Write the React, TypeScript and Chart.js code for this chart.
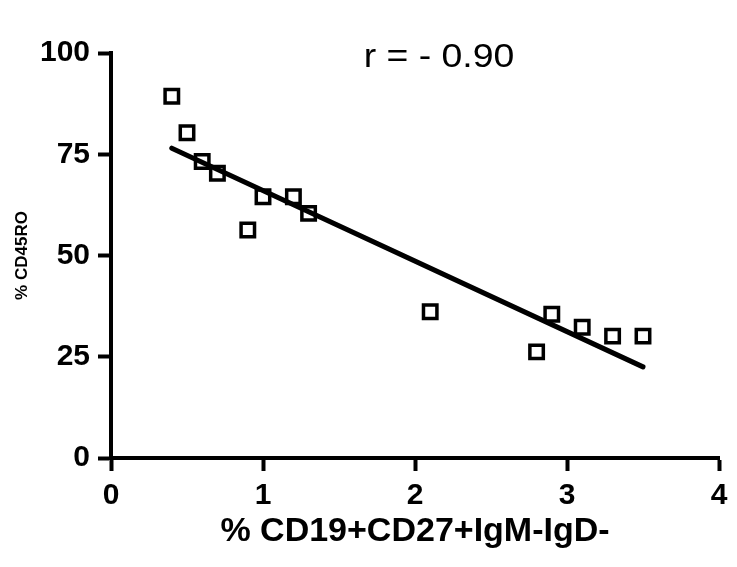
import React, { useEffect, useRef } from "react";
import { Chart, registerables } from "chart.js";

Chart.register(...registerables);

const xValues = [0.4, 0.5, 0.6, 0.7, 0.9, 1.0, 1.2, 1.3, 2.1, 2.8, 2.9, 3.1, 3.3, 3.5];
const yValues = [89.3, 80.3, 73.2, 70.3, 56.3, 64.5, 64.5, 60.4, 36.1, 26.2, 35.5, 32.3, 30.1, 30.1];
const fitX = [0.4, 3.5];
const fitY = [76.5, 22.5];
const xTicks = [0, 1, 2, 3, 4];
const yTicks = [0, 25, 50, 75, 100];
const xTitle = "% CD19+CD27+IgM-IgD-";
const yTitle = "% CD45RO";
const annotation = "r = - 0.90";

const FONT = "'Liberation Sans', Arial, Helvetica, sans-serif";

const annotationPlugin = {
  id: "rAnnotation",
  afterDraw(chart: any) {
    const ctx = chart.ctx;
    ctx.save();
    ctx.fillStyle = "#000";
    ctx.font = `normal 34px ${FONT}`;
    ctx.textAlign = "center";
    ctx.textBaseline = "middle";
    ctx.translate(439, 58);
    ctx.scale(1.1, 1);
    ctx.fillText(annotation, 0, 0);
    ctx.restore();
  },
};

export default function App() {
  const ref = useRef<HTMLCanvasElement | null>(null);

  useEffect(() => {
    if (!ref.current) return;
    const chart = new Chart(ref.current, {
      type: "scatter",
      data: {
        datasets: [
          {
            type: "line",
            data: fitX.map((x, i) => ({ x, y: fitY[i] })),
            borderColor: "#000",
            borderWidth: 5,
            borderCapStyle: "round",
            pointRadius: 0,
            fill: false,
          },
          {
            type: "scatter",
            data: xValues.map((x, i) => ({ x, y: yValues[i] })),
            pointStyle: "rect",
            pointRadius: 9.5,
            borderWidth: 3.5,
            borderColor: "#000",
            backgroundColor: "rgba(0,0,0,0)",
          },
        ],
      } as any,
      options: {
        animation: false,
        responsive: false,
        layout: { padding: { top: 53, right: 18, left: 0, bottom: 0 } },
        plugins: { legend: { display: false }, tooltip: { enabled: false } },
        scales: {
          x: {
            type: "linear",
            min: 0,
            max: 4,
            afterBuildTicks: (s: any) => {
              s.ticks = xTicks.map((v) => ({ value: v }));
            },
            afterFit: (s: any) => {
              s.height = 109;
            },
            ticks: {
              color: "#000",
              padding: 7,
              font: { family: FONT, size: 30, weight: "bold" },
            },
            grid: {
              display: true,
              drawOnChartArea: false,
              drawTicks: true,
              tickLength: 13,
              tickWidth: 4,
              tickColor: "#000",
            },
            border: { display: true, color: "#000", width: 4 },
            title: {
              display: true,
              text: xTitle,
              color: "#000",
              font: { family: FONT, size: 34, weight: "bold" },
              padding: { top: 0, bottom: 15 },
            },
          },
          y: {
            type: "linear",
            min: 0,
            max: 100,
            afterBuildTicks: (s: any) => {
              s.ticks = yTicks.map((v) => ({ value: v }));
            },
            afterFit: (s: any) => {
              s.width = 111;
            },
            ticks: {
              color: "#000",
              padding: 8,
              font: { family: FONT, size: 30, weight: "bold" },
            },
            grid: {
              display: true,
              drawOnChartArea: false,
              drawTicks: true,
              tickLength: 13,
              tickWidth: 4,
              tickColor: "#000",
            },
            border: { display: true, color: "#000", width: 4 },
            title: {
              display: true,
              text: yTitle,
              color: "#000",
              font: { family: FONT, size: 17, weight: "bold" },
              padding: { top: 12, bottom: 0 },
            },
          },
        },
      },
      plugins: [annotationPlugin],
    } as any);
    return () => chart.destroy();
  }, []);

  return (
    <div style={{ position: "fixed", left: 0, top: 0, width: 737, height: 567, background: "#fff" }}>
      <canvas ref={ref} width={737} height={567} style={{ display: "block", width: 737, height: 567 }} />
    </div>
  );
}
